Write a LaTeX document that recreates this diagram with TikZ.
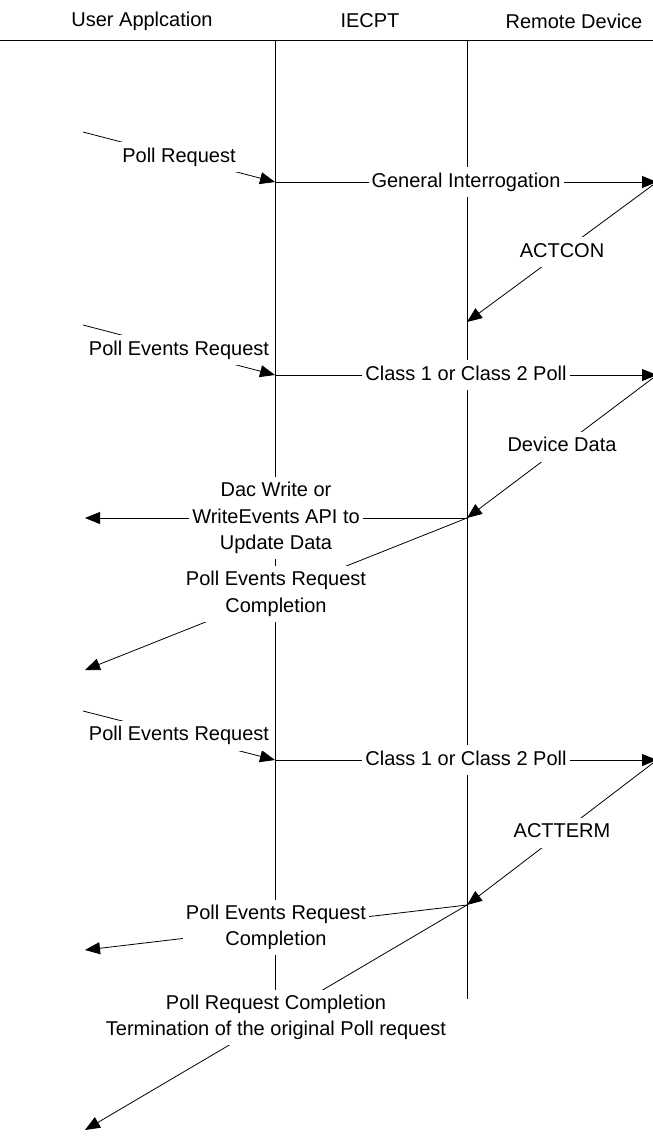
\documentclass[tikz,border=0pt]{standalone}
\usepackage{fontspec}
\setmainfont{Liberation Sans}
\usetikzlibrary{arrows.meta}

\begin{document}
\begin{tikzpicture}[
x=1pt, y=-1pt,
hdr/.style={font=\fontsize{20}{26.5}\selectfont},
lbl/.style={fill=white, inner xsep=3pt, inner ysep=5pt, align=center, font=\fontsize{20}{26.5}\selectfont},
lblone/.style={lbl, text height=15pt, text depth=5pt},
msg/.style={-{Triangle[length=15pt,width=12pt]}, line width=0.8pt},
lane/.style={line width=0.8pt},
]
\useasboundingbox (0,0) rectangle (653,1146);

% headers
\node[hdr]      (user)     at (142,21)   {User Applcation};
\node[hdr]      (iecpt)    at (370,21)   {IECPT};
\node[hdr]      (remote)   at (574,21)   {Remote Device};

\coordinate (hl) at (0,40);
\coordinate (hr) at (653,40);
\draw[lane] (hl) -- (hr);

% lifelines
\coordinate (ie top) at (275,40);
\coordinate (ie bot) at (275,996);
\coordinate (ec top) at (467,40);
\coordinate (ec bot) at (467,999);
\draw[lane] (ie top) -- (ie bot);
\draw[lane] (ec top) -- (ec bot);

% message ends
\coordinate (ua1) at (83,132);
\coordinate (ie1) at (275,182);
\coordinate (rd1) at (657,182);
\coordinate (ec1) at (467,322);
\coordinate (ua2) at (83,325);
\coordinate (ie2) at (275,375);
\coordinate (rd2) at (657,375);
\coordinate (ec2) at (467,518);
\coordinate (uo2) at (85,518);
\coordinate (uo3) at (85,670);
\coordinate (ua4) at (83,711);
\coordinate (ie4) at (275,760);
\coordinate (rd4) at (657,760);
\coordinate (ec4) at (467,905);
\coordinate (uo4) at (85,950);
\coordinate (uo5) at (85,1130);

% general interrogation
\draw[msg] (ua1) -- node[lblone, midway] (m1) {Poll Request} (ie1);
\draw[msg] (ie1) -- node[lblone, midway] (m2) {General Interrogation} (rd1);
\draw[msg] (rd1) -- node[lblone, midway] (m3) {ACTCON} (ec1);

% first poll
\draw[msg] (ua2) -- node[lblone, midway] (m4) {Poll Events Request} (ie2);
\draw[msg] (ie2) -- node[lblone, midway] (m5) {Class 1 or Class 2 Poll} (rd2);
\draw[msg] (rd2) -- node[lblone, midway] (m6) {Device Data} (ec2);
\draw[msg] (ec2) -- node[lbl, midway] (m7) {Dac Write or\\WriteEvents API to\\Update Data} (uo2);
\draw[msg] (ec2) -- node[lbl, midway] (m8) {Poll Events Request\\Completion} (uo3);

% second poll
\draw[msg] (ua4) -- node[lblone, midway] (m9) {Poll Events Request} (ie4);
\draw[msg] (ie4) -- node[lblone, midway] (m10) {Class 1 or Class 2 Poll} (rd4);
\draw[msg] (rd4) -- node[lblone, midway] (m11) {ACTTERM} (ec4);
\draw[msg] (ec4) -- node[lbl, midway] (m12) {Poll Events Request\\Completion} (uo4);
\draw[msg] (ec4) -- node[lbl, midway] (m13) {Poll Request Completion\\Termination of the original Poll request} (uo5);

\end{tikzpicture}
\end{document}
